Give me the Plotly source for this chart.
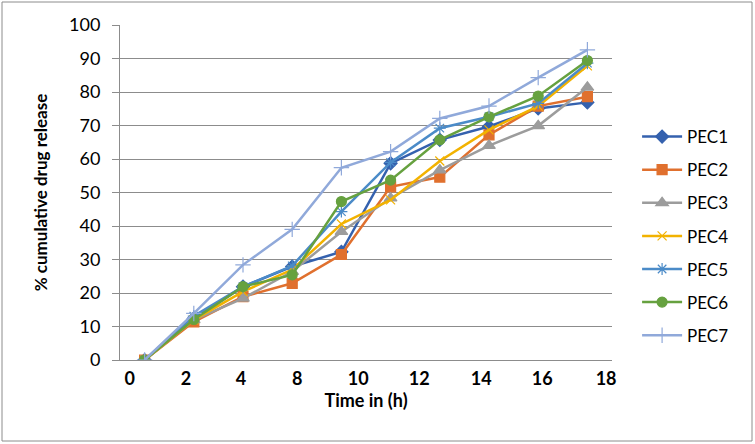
import plotly.graph_objects as go

# sampling points (category positions on the x axis)
points = [1, 2, 3, 4, 5, 6, 7, 8, 9, 10]

pec1 = [0, 12.4, 21.9, 27.9, 32.3, 58.7, 65.7, 69.7, 75.1, 76.9]
pec2 = [0, 11.4, 18.9, 22.9, 31.5, 51.7, 54.6, 67.2, 75.8, 78.6]
pec3 = [0, 12.0, 18.4, 26.4, 38.3, 48.3, 56.7, 64.0, 69.9, 81.4]
pec4 = [0, 12.0, 20.4, 27.0, 40.6, 47.8, 59.4, 68.7, 75.8, 87.8]
pec5 = [0, 13.1, 21.9, 28.1, 44.3, 59.0, 69.2, 72.6, 76.6, 88.6]
pec6 = [0, 12.1, 21.9, 25.4, 47.3, 53.7, 65.7, 72.6, 78.8, 89.4]
pec7 = [0, 13.9, 28.4, 39.0, 57.4, 62.2, 72.1, 75.8, 84.3, 92.6]

x_tick_text = ["0", "2", "4", "8", "10", "12", "14", "16", "18"]
x_tick_pos = [0.70, 1.84, 2.96, 4.10, 5.34, 6.58, 7.84, 9.08, 10.38]

series = [
    ("PEC1", pec1, "#3461AE", "diamond", 10),
    ("PEC2", pec2, "#E0702E", "square", 10),
    ("PEC3", pec3, "#9C9C9C", "triangle-up", 11),
    ("PEC4", pec4, "#F2B200", "x-thin-open", 9),
    ("PEC5", pec5, "#4B8BC8", "asterisk-open", 10),
    ("PEC6", pec6, "#66A13F", "circle", 10),
    ("PEC7", pec7, "#90A9DA", "cross-thin-open", 11),
]

fig = go.Figure()
for name, vals, color, sym, size in series:
    fig.add_trace(go.Scatter(
        x=points, y=vals, name=name, mode="lines+markers",
        line=dict(color=color, width=2.5),
        marker=dict(symbol=sym, size=size, color=color,
                    line=dict(color=color, width=1.2)),
        legendgroup=name,
    ))

font = "Lato, 'Open Sans', sans-serif"
fig.update_layout(
    width=755, height=444,
    margin=dict(l=120, r=143, t=25, b=84, autoexpand=False),
    paper_bgcolor="white", plot_bgcolor="white",
    font=dict(family=font, size=17, color="black"),
    showlegend=True,
    legend=dict(x=1.051, y=0.37, yanchor="middle", xanchor="left",
                font=dict(size=17), tracegroupgap=8,
                itemwidth=40, bgcolor="rgba(0,0,0,0)"),
    xaxis=dict(range=[0.5, 10.5], tickvals=x_tick_pos, ticktext=x_tick_text,
               automargin=False, ticklabelstandoff=2,
               showgrid=False, zeroline=False, showline=True,
               linecolor="#8C8C8C", linewidth=1, ticks="",
               tickfont=dict(size=18, family=font, weight="bold"),
               title=dict(text="<b>Time in (h)</b>", font=dict(size=18), standoff=6)),
    yaxis=dict(range=[0, 100], dtick=10, showgrid=True, gridcolor="#8C8C8C",
               automargin=False, ticklabelstandoff=8,
               gridwidth=1, zeroline=False, showline=True, linecolor="#8C8C8C",
               ticks="outside", ticklen=7, tickcolor="#8C8C8C",
               tickfont=dict(size=18),
               title=dict(text="<b>% cumulative drug release</b>", font=dict(size=17), standoff=17)),
    shapes=[dict(type="rect", xref="paper", yref="paper",
                 x0=(2 - 120) / 492, x1=(752 - 120) / 492,
                 y0=(444 - 441 - 84) / 335, y1=(444 - 2 - 84) / 335,
                 line=dict(color="#8C8C8C", width=1))],
)

fig.write_html("out.html", config={"displayModeBar": False},
               post_script="document.body.style.margin='0px';")
